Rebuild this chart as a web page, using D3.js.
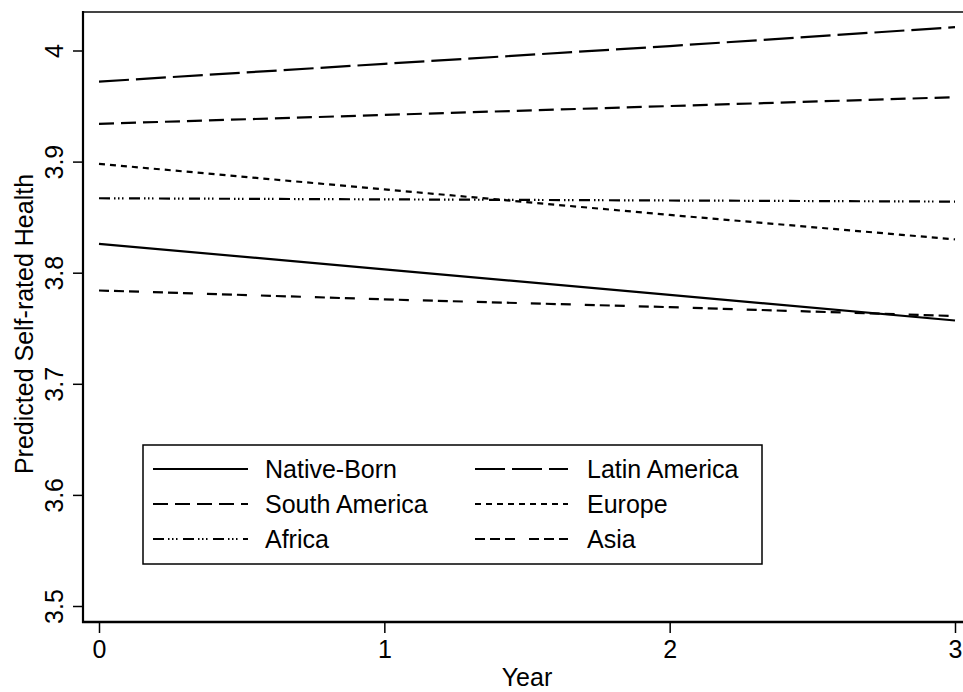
<!DOCTYPE html>
<html>
<head>
<meta charset="utf-8">
<script src="https://cdn.jsdelivr.net/npm/d3@7"></script>
<style>
  html, body { margin: 0; padding: 0; background: #fff; }
  svg { display: block; font-family: "Liberation Sans", Arial, Helvetica, sans-serif; }
</style>
</head>
<body>
<svg id="chart" width="963" height="692"></svg>
<script>
// ---- data ----
const years = [0, 1, 2, 3];
const nativeBorn   = [3.826, 3.803, 3.780, 3.757];
const latinAmerica = [3.972, 3.988, 4.004, 4.021];
const southAmerica = [3.934, 3.942, 3.950, 3.958];
const europe       = [3.898, 3.875, 3.852, 3.830];
const africa       = [3.867, 3.866, 3.865, 3.864];
const asia         = [3.784, 3.776, 3.769, 3.761];
const seriesNames  = ["Native-Born", "Latin America", "South America", "Europe", "Africa", "Asia"];
const yTicks = [3.5, 3.6, 3.7, 3.8, 3.9, 4];
const xTicks = [0, 1, 2, 3];
const xTitle = "Year";
const yTitle = "Predicted Self-rated Health";

// ---- styles (kept apart from data) ----
const dashes = {
  "Native-Born": null,
  "Latin America": "30,7",
  "South America": "15,7",
  "Europe": "6,5",
  "Africa": "11,4,1.5,2.5,1.5,2.5,1.5,5.5",
  "Asia": "10,5,10,5,10,14"
};
const seriesValues = {
  "Native-Born": nativeBorn,
  "Latin America": latinAmerica,
  "South America": southAmerica,
  "Europe": europe,
  "Africa": africa,
  "Asia": asia
};

const svg = d3.select("#chart");
const FS = 25;

const x = d3.scaleLinear().domain([0, 3]).range([99, 955]);
const y = d3.scaleLinear().domain([3.5, 4.0]).range([606, 50.5]);

const axisLeftX = 83, axisBottomY = 622, plotTop = 12;

// frame
svg.append("line").attr("x1", axisLeftX).attr("x2", 963).attr("y1", plotTop).attr("y2", plotTop)
  .attr("stroke", "#444").attr("stroke-width", 2);
svg.append("line").attr("x1", axisLeftX).attr("x2", axisLeftX).attr("y1", plotTop - 1).attr("y2", axisBottomY + 1)
  .attr("stroke", "#000").attr("stroke-width", 2.2);
svg.append("line").attr("x1", axisLeftX - 1).attr("x2", 963).attr("y1", axisBottomY).attr("y2", axisBottomY)
  .attr("stroke", "#000").attr("stroke-width", 2.5);

// y axis
const gy = svg.append("g").attr("transform", `translate(${axisLeftX},0)`)
  .call(d3.axisLeft(y).tickValues(yTicks).tickSize(10).tickFormat(d3.format(".1f")));
gy.select(".domain").remove();
gy.selectAll(".tick line").attr("stroke", "#000").attr("stroke-width", 1.5);
gy.selectAll(".tick text")
  .attr("x", 0).attr("y", 0).attr("dy", null)
  .attr("text-anchor", "middle")
  .attr("transform", "translate(-20,0) rotate(-90)")
  .attr("font-size", FS).attr("fill", "#000")
  .style("font-family", "'Liberation Sans', Arial, sans-serif");
gy.selectAll(".tick text").text(d => d === 4 ? "4" : d3.format(".1f")(d));

// x axis
const gx = svg.append("g").attr("transform", `translate(0,${axisBottomY})`)
  .call(d3.axisBottom(x).tickValues(xTicks).tickSize(11).tickFormat(d3.format("d")));
gx.select(".domain").remove();
gx.selectAll(".tick line").attr("stroke", "#000").attr("stroke-width", 1.5);
gx.selectAll(".tick text")
  .attr("y", 36).attr("dy", null)
  .attr("font-size", FS).attr("fill", "#000")
  .style("font-family", "'Liberation Sans', Arial, sans-serif");

// titles
svg.append("text").attr("x", 527).attr("y", 686).attr("text-anchor", "middle")
  .attr("font-size", FS).text(xTitle);
svg.append("text").attr("transform", "translate(33,324) rotate(-90)").attr("text-anchor", "middle")
  .attr("font-size", FS).text(yTitle);

// lines
const line = d3.line().x((d, i) => x(years[i])).y(d => y(d));
seriesNames.forEach(name => {
  svg.append("path")
    .datum(seriesValues[name])
    .attr("d", line)
    .attr("fill", "none")
    .attr("stroke", "#000")
    .attr("stroke-width", 2.2)
    .attr("stroke-dasharray", dashes[name]);
});

// legend
const leg = svg.append("g");
leg.append("rect").attr("x", 143).attr("y", 445).attr("width", 619).attr("height", 119)
  .attr("fill", "#fff").attr("stroke", "#000").attr("stroke-width", 1.5);
const rowY = [469, 504, 539];
const colLine = [[153, 248], [475, 568]];
const colText = [265, 587];
seriesNames.forEach((name, i) => {
  const col = i % 2, row = Math.floor(i / 2);
  leg.append("line")
    .attr("x1", colLine[col][0]).attr("x2", colLine[col][1])
    .attr("y1", rowY[row]).attr("y2", rowY[row])
    .attr("stroke", "#000").attr("stroke-width", 2.2)
    .attr("stroke-dasharray", dashes[name]);
  leg.append("text").attr("x", colText[col]).attr("y", rowY[row] + 9)
    .attr("font-size", FS).text(name);
});
</script>
</body>
</html>
